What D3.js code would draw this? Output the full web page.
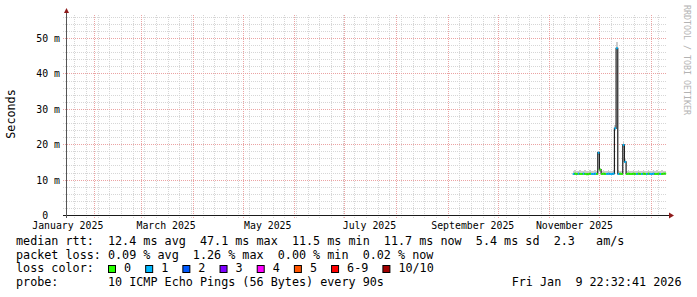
<!DOCTYPE html>
<html>
<head>
<meta charset="utf-8">
<script src="https://cdn.jsdelivr.net/npm/d3@7"></script>
<style>
	body { margin: 0; background: #fff; }
	svg text { font-family: "DejaVu Sans Mono", monospace; white-space: pre; }
</style>
</head>
<body>
<div class="graph"></div>
<script>
// graph covers the last 360 days
const rangeStart = new Date(2025, 0, 14, 22, 32, 41);
const rangeEnd = new Date(2026, 0, 9, 22, 32, 41);

// one consolidated row per day, starting here
const firstDay = "2025-11-15";

// median rtt in ms
const medianRtt = [
	11.6, 11.7, 11.6, 11.7, 11.6, 11.6, 11.7, 11.6, 11.5, 11.6,
	11.7, 11.6, 11.6, 11.7, 11.6, 17.6, 12.8, 11.6, 11.7, 11.6,
	11.6, 11.7, 11.6, 11.6, 11.7, 24.5, 47.1, 11.6, 11.7, 11.6,
	19.8, 15.0, 11.6, 11.7, 11.6, 11.6, 11.7, 11.6, 11.6, 11.7,
	11.6, 11.6, 11.7, 11.6, 11.6, 11.7, 11.6, 11.6, 11.7, 11.6,
	11.6, 11.7, 11.6, 11.6, 11.7, 11.7
];
// smoke: lowest and highest ping in ms
const smokeLow = [
	11.3, 11.4, 11.3, 11.4, 11.3, 11.3, 11.4, 11.3, 11.2, 11.3,
	11.4, 11.3, 11.3, 11.4, 11.3, 17.0, 12.2, 11.3, 11.4, 11.3,
	11.3, 11.4, 11.3, 11.3, 11.4, 23.8, 46.6, 11.3, 11.4, 11.3,
	19.2, 14.6, 11.3, 11.4, 11.3, 11.3, 11.4, 11.3, 11.3, 11.4,
	11.3, 11.3, 11.4, 11.3, 11.3, 11.4, 11.3, 11.3, 11.4, 11.3,
	11.3, 11.4, 11.3, 11.3, 11.4, 11.4
];
const smokeHigh = [
	12.4, 12.6, 12.5, 12.3, 12.6, 12.5, 12.4, 12.7, 12.5, 12.4,
	12.6, 12.3, 12.5, 12.6, 12.4, 18.2, 13.4, 12.5, 12.6, 12.4,
	12.5, 12.7, 12.4, 12.5, 12.6, 25.4, 49.0, 12.6, 12.4, 12.5,
	20.6, 15.7, 12.5, 12.6, 12.4, 12.5, 12.7, 12.5, 12.4, 12.6,
	12.5, 12.3, 12.6, 12.5, 12.4, 12.6, 12.5, 12.4, 12.6, 12.5,
	12.7, 12.4, 12.5, 12.6, 12.4, 12.5
];
// lost pings out of 10
const lossCount = [
	1, 0, 0, 1, 0, 0, 1, 0, 0, 0,
	0, 1, 1, 1, 0, 1, 0, 0, 0, 0,
	1, 1, 1, 1, 1, 1, 1, 1, 0, 0,
	1, 1, 0, 0, 0, 0, 0, 0, 1, 0,
	0, 1, 0, 0, 1, 0, 1, 1, 1, 0,
	0, 0, 1, 0, 0, 0
];

const yMax = 56.52;
const yTicks = [0, 10, 20, 30, 40, 50];
const yTickLabels = ["0  ", "10 m", "20 m", "30 m", "40 m", "50 m"];
const monthLabels = ["January 2025", "March 2025", "May 2025", "July 2025", "September 2025", "November 2025"];
const monthLabelDates = ["2025-01-01", "2025-03-01", "2025-05-01", "2025-07-01", "2025-09-01", "2025-11-01"];

const lossNames = ["0", "1", "2", "3", "4", "5", "6-9", "10/10"];
const lossColors = ["#26ff00", "#00b8ff", "#0059ff", "#7e00ff", "#ff00ff", "#ff5500", "#ff0000", "#a10000"];

const legendLines = [
	"median rtt:  12.4 ms avg  47.1 ms max  11.5 ms min  11.7 ms now  5.4 ms sd  2.3   am/s",
	"packet loss: 0.09 % avg  1.26 % max  0.00 % min  0.02 % now",
	"loss color:",
	"probe:       10 ICMP Echo Pings (56 Bytes) every 90s"
];
const stampText = "Fri Jan  9 22:32:41 2026";
const yAxisTitle = "Seconds";
const watermark = "RRDTOOL / TOBI OETIKER";


function lossIndex(n){
	if (n >= 10) return 7;
	if (n >= 6) return 6;
	return n;
}

function drawGraph(){
	let width = 697;
	let height = 297;
	let parseDay = d3.timeParse("%Y-%m-%d");

	let svg = d3.select(".graph")
		.append("svg")
		.attr("width", width)
		.attr("height", height);

	let x = d3.scaleTime().domain([rangeStart, rangeEnd]).range([66, 666]);
	let y = d3.scaleLinear().domain([0, yMax]).range([215, 15]);

	let rows = medianRtt.map(function(m, i){
		let day = d3.timeDay.offset(parseDay(firstDay), i);
		return {
			day: day,
			next: d3.timeDay.offset(day, 1),
			median: m,
			lo: smokeLow[i],
			hi: smokeHigh[i],
			loss: lossCount[i]
		};
	});

	let crisp = function(v){ return Math.round(v) + 0.5; };

	// grid: minor first, then the major (red) lines
	let grid = svg.append("g");

	grid.selectAll(".hminor")
		.data(y.ticks(28))
		.enter().append("line")
		.attr("x1", 63).attr("x2", 666)
		.attr("y1", function(d){ return crisp(y(d)); })
		.attr("y2", function(d){ return crisp(y(d)); })
		.attr("stroke", "#d6d6d6")
		.attr("stroke-dasharray", "1,1");

	grid.selectAll(".vminor")
		.data(d3.timeMonday.range(rangeStart, rangeEnd))
		.enter().append("line")
		.attr("x1", function(d){ return crisp(x(d)); })
		.attr("x2", function(d){ return crisp(x(d)); })
		.attr("y1", 15).attr("y2", 218)
		.attr("stroke", "#d6d6d6")
		.attr("stroke-dasharray", "1,1");

	grid.selectAll(".hmajor")
		.data(yTicks.slice(1))
		.enter().append("line")
		.attr("x1", 63).attr("x2", 666)
		.attr("y1", function(d){ return crisp(y(d)); })
		.attr("y2", function(d){ return crisp(y(d)); })
		.attr("stroke", "#eba3a3")
		.attr("stroke-dasharray", "1,1");

	grid.selectAll(".vmajor")
		.data(d3.timeMonth.range(rangeStart, rangeEnd))
		.enter().append("line")
		.attr("x1", function(d){ return crisp(x(d)); })
		.attr("x2", function(d){ return crisp(x(d)); })
		.attr("y1", 15).attr("y2", 218)
		.attr("stroke", "#eba3a3")
		.attr("stroke-dasharray", "1,1");

	// smoke
	svg.append("g").selectAll("rect")
		.data(rows)
		.enter().append("rect")
		.attr("x", function(d){ return x(d.day); })
		.attr("width", function(d){ return x(d.next) - x(d.day); })
		.attr("y", function(d){ return y(d.hi); })
		.attr("height", function(d){ return y(d.lo) - y(d.hi); })
		.attr("fill", "#cbcbcb")
		.attr("shape-rendering", "crispEdges");

	// plain dark median, drawn as steps like rrdtool
	let last = rows[rows.length - 1];
	let stepRows = rows.concat([{ day: last.next, median: last.median }]);
	let medianLine = d3.line()
		.x(function(d){ return x(d.day); })
		.y(function(d){ return y(d.median); })
		.curve(d3.curveStepAfter);

	svg.append("path")
		.datum(stepRows)
		.attr("d", medianLine)
		.attr("fill", "none")
		.attr("stroke", "#202020")
		.attr("stroke-width", 1.2);

	// median coloured by loss
	svg.append("g").selectAll("line")
		.data(rows)
		.enter().append("line")
		.attr("x1", function(d){ return x(d.day); })
		.attr("x2", function(d){ return x(d.next); })
		.attr("y1", function(d){ return y(d.median); })
		.attr("y2", function(d){ return y(d.median); })
		.attr("stroke", function(d){ return lossColors[lossIndex(d.loss)]; })
		.attr("stroke-width", 2);

	// axes
	svg.append("line")
		.attr("x1", 63).attr("x2", 669)
		.attr("y1", 215.5).attr("y2", 215.5)
		.attr("stroke", "#1a1a1a");
	svg.append("line")
		.attr("x1", 66.5).attr("x2", 66.5)
		.attr("y1", 218).attr("y2", 12)
		.attr("stroke", "#555");
	svg.append("path")
		.attr("d", "M64,13L69,13L66.5,8Z")
		.attr("fill", "#8e1b1b");
	svg.append("path")
		.attr("d", "M669,212.5L669,218.5L674,215.5Z")
		.attr("fill", "#8e1b1b");

	// y tick labels
	svg.append("g").selectAll("text")
		.data(yTicks)
		.enter().append("text")
		.attr("x", 60)
		.attr("y", function(d){ return y(d); })
		.attr("dy", "0.4em")
		.attr("text-anchor", "end")
		.attr("font-size", "9.85px")
		.text(function(d, i){ return yTickLabels[i]; });

	// month labels sit in the middle of their month
	svg.append("g").selectAll("text")
		.data(monthLabels)
		.enter().append("text")
		.attr("x", function(d, i){ return x(d3.timeDay.offset(parseDay(monthLabelDates[i]), 15)); })
		.attr("y", 228.5)
		.attr("text-anchor", "middle")
		.attr("font-size", "9.85px")
		.text(String);

	svg.append("text")
		.attr("transform", "translate(15,114) rotate(-90)")
		.attr("text-anchor", "middle")
		.attr("font-size", "11.75px")
		.text(yAxisTitle);

	svg.append("text")
		.attr("transform", "translate(684.3,5) rotate(90)")
		.attr("font-size", "8.3px")
		.attr("fill", "#b3b3b3")
		.text(watermark);

	// legend
	let baselines = [245, 258.7, 272.4, 286.1];
	svg.append("g").selectAll("text")
		.data(legendLines)
		.enter().append("text")
		.attr("x", 16)
		.attr("y", function(d, i){ return baselines[i]; })
		.attr("font-size", "11.75px")
		.text(String);

	svg.append("text")
		.attr("x", 681.5)
		.attr("y", baselines[3])
		.attr("text-anchor", "end")
		.attr("font-size", "11.75px")
		.text(stampText);

	let boxX = 108.5;
	lossNames.forEach(function(name, i){
		svg.append("rect")
			.attr("x", boxX).attr("y", 265.5)
			.attr("width", 7).attr("height", 7)
			.attr("fill", lossColors[i])
			.attr("stroke", "#000");
		let label = svg.append("text")
			.attr("x", boxX + 15.5)
			.attr("y", baselines[2])
			.attr("font-size", "11.75px")
			.text(name);
		boxX = boxX + 15.5 + label.node().getComputedTextLength() + 14.6;
	});
}

drawGraph();
</script>
</body>
</html>
